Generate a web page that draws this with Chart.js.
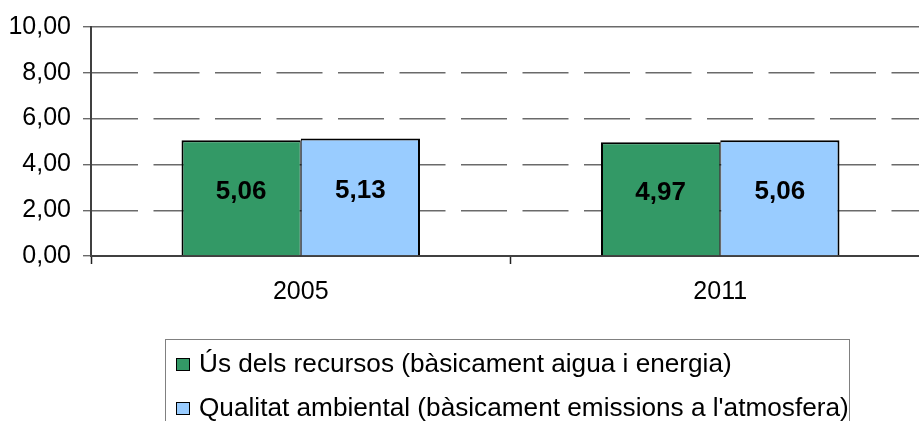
<!DOCTYPE html>
<html>
<head>
<meta charset="utf-8">
<script src="https://cdn.jsdelivr.net/npm/chart.js@4/dist/chart.umd.min.js"></script>
<style>
  html, body { margin: 0; padding: 0; background: #fff; overflow: hidden; width: 919px; height: 421px; }
  #wrap { position: absolute; left: 0; top: 0; width: 930px; height: 421px; }
  #legend { position: absolute; left: 165px; top: 339px; width: 685px; height: 100px;
            border: 1.5px solid #808080; box-sizing: border-box; font-family: "Liberation Sans", Arial, sans-serif; font-size: 26.2px; color: #000; }
  .item { position: absolute; left: 0; white-space: nowrap; }
  .sw { position: absolute; width: 12px; height: 11px; border: 1.5px solid #000; }
  .lt { position: absolute; left: 33px; line-height: 26px; }
</style>
</head>
<body>
<div id="wrap"><canvas id="c" width="930" height="421"></canvas></div>
<div id="legend"></div>
<script>
const categories = ['2005', '2011'];
const seriesNames = ['Ús dels recursos (bàsicament aigua i energia)', "Qualitat ambiental (bàsicament emissions a l'atmosfera)"];
const usRecursos = [5.06, 4.97];
const qualitatAmbiental = [5.13, 5.06];
const yTicks = [0, 2, 4, 6, 8, 10];
const colors = ['#339966', '#99CCFF'];

const fmt = v => v.toFixed(2).replace('.', ',');
const FONT = '"Liberation Sans", Arial, sans-serif';

const dataLabels = {
  id: 'dataLabels',
  afterDatasetsDraw(chart) {
    const ctx = chart.ctx;
    ctx.save();
    ctx.font = 'bold 26px ' + FONT;
    ctx.fillStyle = '#000';
    ctx.textAlign = 'center';
    ctx.textBaseline = 'middle';
    chart.data.datasets.forEach((ds, i) => {
      chart.getDatasetMeta(i).data.forEach((el, j) => {
        const p = el.getProps(['x', 'y', 'base'], true);
        ctx.fillText(fmt(ds.data[j]), p.x, (p.y + p.base) / 2 - 6);
      });
    });
    ctx.restore();
  }
};

const chart = new Chart(document.getElementById('c'), {
  type: 'bar',
  data: {
    labels: categories,
    datasets: [
      { label: seriesNames[0], data: usRecursos, backgroundColor: colors[0], borderColor: '#000',
        borderWidth: { left: 2, right: 1, top: 2, bottom: 0 }, borderSkipped: false,
        categoryPercentage: 0.5685, barPercentage: 1.0 },
      { label: seriesNames[1], data: qualitatAmbiental, backgroundColor: colors[1], borderColor: '#000',
        borderWidth: { left: 1, right: 2, top: 2, bottom: 0 }, borderSkipped: false,
        categoryPercentage: 0.5685, barPercentage: 1.0 }
    ]
  },
  options: {
    responsive: false,
    animation: false,
    layout: { padding: { top: 26, left: 0, right: 0, bottom: 105 } },
    plugins: { legend: { display: false }, tooltip: { enabled: false } },
    scales: {
      x: {
        afterFit(s) { s.height = 60; },
        grid: { offset: true, drawOnChartArea: false, drawTicks: true, tickLength: 8, tickColor: '#222', tickWidth: 1.5 },
        border: { display: true, color: '#404040', width: 2 },
        ticks: { color: '#000', font: { family: FONT, size: 25 }, padding: 13, maxRotation: 0 }
      },
      y: {
        min: 0, max: 10,
        afterFit(s) { s.width = 91; },
        afterBuildTicks(s) { s.ticks = yTicks.map(v => ({ value: v })); },
        grid: { color: '#6a6a6a', lineWidth: 1.4, tickLength: 8, tickColor: '#6a6a6a', tickWidth: 1.4 },
        border: { display: true, color: '#404040', width: 2,
                  dash: c => (c.tick && c.tick.value === 10) ? [] : [46, 15.5] },
        ticks: { color: '#000', font: { family: FONT, size: 25 }, padding: 12, callback: v => fmt(v) }
      }
    }
  },
  plugins: [dataLabels]
});

// HTML legend built from the datasets
const lg = document.getElementById('legend');
chart.data.datasets.forEach((ds, i) => {
  const it = document.createElement('div');
  it.className = 'item';
  it.style.top = (17 + i * 44) + 'px';
  const sw = document.createElement('div');
  sw.className = 'sw';
  sw.style.left = '10px';
  sw.style.top = '1px';
  sw.style.background = ds.backgroundColor;
  const t = document.createElement('div');
  t.className = 'lt';
  t.style.top = '-7px';
  t.textContent = ds.label;
  it.appendChild(sw); it.appendChild(t);
  lg.appendChild(it);
});
</script>
</body>
</html>
